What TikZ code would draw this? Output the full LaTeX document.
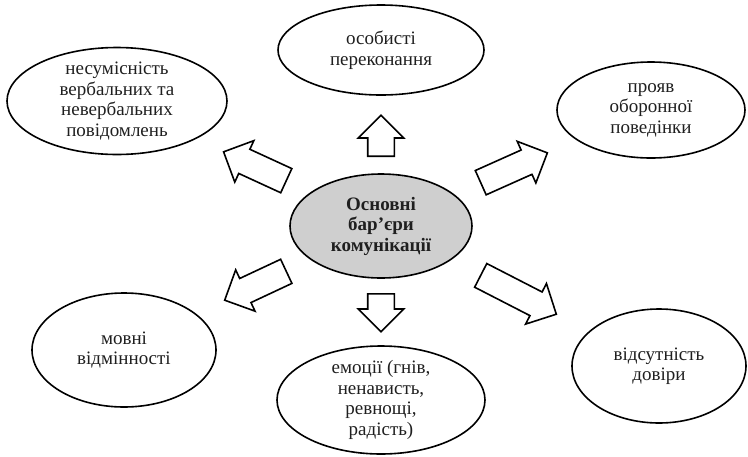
\documentclass[tikz,border=0pt]{standalone}
\usepackage{fontspec}
\setmainfont{Liberation Serif}
\usetikzlibrary{shapes.geometric,shapes.arrows}
\begin{document}
\begin{tikzpicture}[x=1pt,y=1pt,
  bub/.style={ellipse, draw, line width=1.6pt, align=center, inner sep=-12pt,
    text=black!88, font=\fontsize{19}{20.5}\selectfont},
  hub/.style={bub, fill=black!19, font=\bfseries\fontsize{19}{20.5}\selectfont},
  fat/.style={single arrow, draw, line width=1.6pt, inner xsep=0pt, inner ysep=12.5pt,
    single arrow head extend=9.5pt, single arrow tip angle=90, anchor=tail,
    minimum height=#1}
]
\useasboundingbox (0,0) rectangle (748,-456);

\node[hub, minimum width=182, minimum height=104] (c) at (381,-226) {Основні\\бар’єри\\комунікації};

\node[bub, minimum width=206, minimum height=90] (top) at (381,-50) {особисті\\переконання};
\node[bub, minimum width=220, minimum height=107] (tl) at (117,-101) {несумісність\\вербальних та\\невербальних\\повідомлень};
\node[bub, minimum width=188, minimum height=96] (tr) at (651,-110) {прояв\\оборонної\\поведінки};
\node[bub, minimum width=184, minimum height=114] (bl) at (124,-350) {мовні\\відмінності};
\node[bub, minimum width=208, minimum height=108] (bm) at (381,-400) {емоції (гнів,\\ненависть,\\ревнощі,\\радість)};
\node[bub, minimum width=174, minimum height=114] (br) at (659,-366) {відсутність\\довіри};

\node[fat=41, rotate=90] (a1) at (381,-157) {};
\node[fat=38, rotate=-90] (a2) at (381,-293) {};
\node[fat=69, rotate=155.3] (a3) at (287,-181) {};
\node[fat=73, rotate=24.1] (a4) at (480,-183) {};
\node[fat=68, rotate=205.1] (a5) at (287,-271) {};
\node[fat=85, rotate=-27.2] (a6) at (480,-275) {};
\end{tikzpicture}
\end{document}
